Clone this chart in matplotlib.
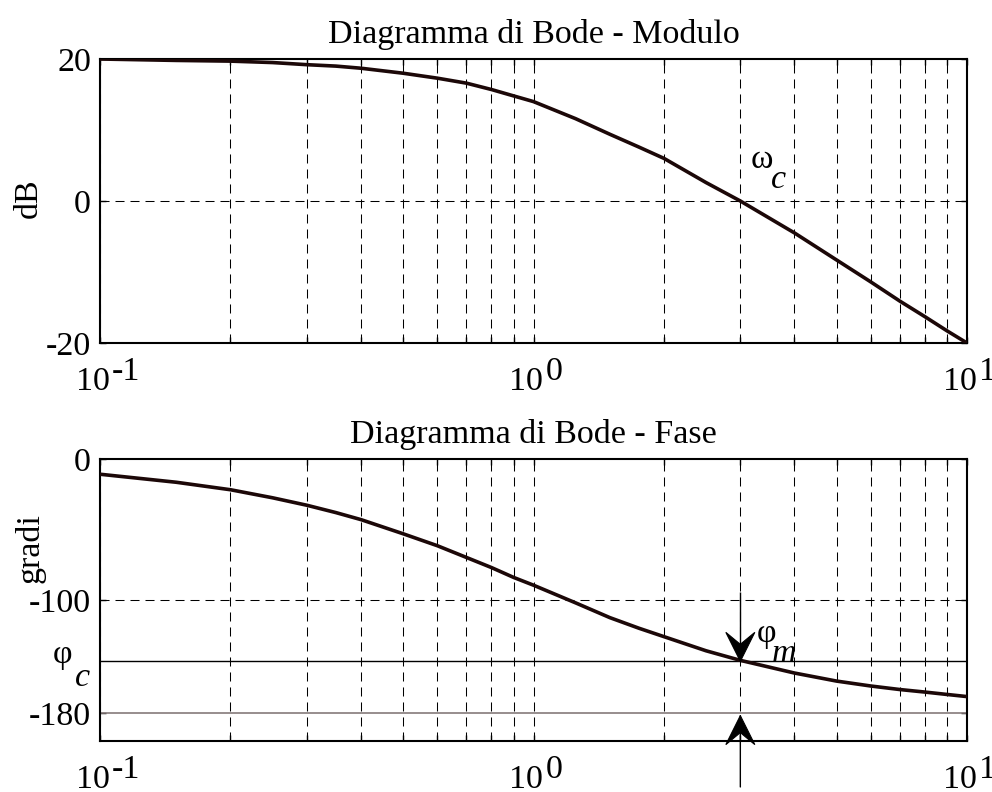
import matplotlib
matplotlib.use("Agg")
import matplotlib.pyplot as plt
from matplotlib.patches import Polygon
from matplotlib.ticker import NullFormatter, FixedLocator
from matplotlib.transforms import ScaledTranslation

plt.rcParams["font.family"] = ["Liberation Serif", "DejaVu Serif"]
plt.rcParams["axes.unicode_minus"] = False
plt.rcParams["lines.scale_dashes"] = False

# Frequency response samples (rad/s, dB, degrees)
omega = [0.1, 0.15, 0.2, 0.25, 0.3, 0.35, 0.4, 0.5, 0.6, 0.7, 0.8, 0.9, 1.0,
         1.25, 1.5, 1.75, 2.0, 2.5, 3.0, 4.0, 5.0, 6.0, 7.0, 8.0, 9.0, 10.0]
mag_db = [20.0, 19.8, 19.7, 19.5, 19.2, 19.0, 18.7, 18.0, 17.3, 16.6, 15.7, 14.8, 14.0,
          11.6, 9.4, 7.6, 6.0, 2.6, 0.0, -4.5, -8.3, -11.4, -14.1, -16.3, -18.3, -20.0]
phase_deg = [-10.8, -16.5, -21.8, -27.5, -32.8, -38.0, -43.0, -53.0, -61.5, -69.8, -77.0, -84.0, -89.5,
             -102.0, -112.5, -120.0, -126.0, -136.0, -142.8, -151.8, -157.5, -161.0, -163.5, -165.3,
             -167.0, -168.5]

omega_c = 3.0        # crossover frequency
phi_c = -143.5       # phase at crossover
phase_ref = -180.0   # reference phase

decades = [-1, 0, 1]
mag_ticks = [-20, 0, 20]
phase_ticks = [-180, -100, 0]

CURVE = "#1c0808"
DASH = (0, (6.5, 4.3))
FS = 24.5

fig = plt.figure(figsize=(9.92, 7.92), dpi=100)
ax1 = fig.add_axes([100 / 992, 1 - 343 / 792, 867 / 992, 284 / 792])
ax2 = fig.add_axes([100 / 992, 1 - 741 / 792, 867 / 992, 282 / 792])


def style_axes(ax):
    ax.set_xscale("log")
    ax.set_xlim(0.1, 10)
    ax.grid(True, which="both", axis="x", color="black", linestyle=DASH, linewidth=0.75)
    ax.tick_params(which="both", direction="in", top=True, right=True, width=1,
                   length=4, labelsize=FS, pad=6.5)
    ax.xaxis.set_major_formatter(NullFormatter())
    ax.xaxis.set_minor_formatter(NullFormatter())
    for s in ax.spines.values():
        s.set_linewidth(1.5)
    # decade labels written as "10" with a raised exponent
    for e in decades:
        w = 10.0 ** e
        ax.annotate("10", xy=(w, 0), xycoords=("data", "axes fraction"),
                    xytext=(7.0, -34.0), textcoords="offset points",
                    ha="right", va="baseline", fontsize=FS, annotation_clip=False)
        ax.annotate(str(e), xy=(w, 0), xycoords=("data", "axes fraction"),
                    xytext=(8.5, -26.8), textcoords="offset points",
                    ha="left", va="baseline", fontsize=FS, annotation_clip=False)


def chevron(ax, x, y, down=True):
    s = 1 if down else -1
    verts = [(0, 0), (-0.145, 0.29 * s), (0, 0.17 * s), (0.145, 0.29 * s)]
    trans = fig.dpi_scale_trans + ScaledTranslation(x, y, ax.transData)
    ax.add_patch(Polygon(verts, closed=True, transform=trans, facecolor="black",
                         edgecolor="black", linewidth=0.8, clip_on=False, zorder=5))


# Magnitude
style_axes(ax1)
ax1.plot(omega, mag_db, color=CURVE, linewidth=2.6, zorder=3)
ax1.set_ylim(-20, 20)
ax1.yaxis.set_major_locator(FixedLocator(mag_ticks))
ax1.axhline(0, color="black", linestyle=DASH, linewidth=0.75)
ax1.set_title("Diagramma di Bode - Modulo", fontsize=FS, pad=11.5)
ax1.set_ylabel("dB", fontsize=FS, va="center")
ax1.yaxis.set_label_coords(-0.083, 0.51)
ax1.text(3.37, 5.8, "ω", fontsize=FS, ha="center", va="center")
ax1.text(3.68, 2.96, "c", fontsize=FS, style="italic", ha="center", va="center")

# Phase
style_axes(ax2)
ax2.plot(omega, phase_deg, color=CURVE, linewidth=2.6, zorder=3)
ax2.set_ylim(-200, 0)
ax2.yaxis.set_major_locator(FixedLocator(phase_ticks))
ax2.axhline(-100, color="black", linestyle=DASH, linewidth=0.75)
ax2.axhline(phi_c, color="black", linewidth=1.0)
ax2.axhline(phase_ref, color="#857a7a", linewidth=1.2)
ax2.set_title("Diagramma di Bode - Fase", fontsize=FS, pad=11.5)
ax2.set_ylabel("gradi", fontsize=FS, va="center")
ax2.yaxis.set_label_coords(-0.081, 0.684)

ax2.annotate("φ", xy=(-0.043, -138.6), xycoords=("axes fraction", "data"),
             fontsize=FS, ha="center", va="center", annotation_clip=False)
ax2.annotate("c", xy=(-0.0196, -154.9), xycoords=("axes fraction", "data"),
             fontsize=FS, style="italic", ha="center", va="center", annotation_clip=False)

# phase margin arrows
ax2.vlines(omega_c, phi_c, -94, color="black", linewidth=1.0, zorder=4)
chevron(ax2, omega_c, phi_c, down=True)
ax2.annotate("", xy=(omega_c, phase_ref - 2), xycoords="data",
             xytext=(omega_c, -0.163), textcoords=("data", "axes fraction"),
             arrowprops=dict(arrowstyle="-", color="black", linewidth=1.0,
                             shrinkA=0, shrinkB=0), annotation_clip=False)
chevron(ax2, omega_c, phase_ref - 2, down=False)
ax2.text(3.44, -124.0, "φ", fontsize=FS, ha="center", va="center")
ax2.text(3.78, -138.0, "m", fontsize=FS, style="italic", ha="center", va="center")

fig.savefig("out.png", dpi=100)
